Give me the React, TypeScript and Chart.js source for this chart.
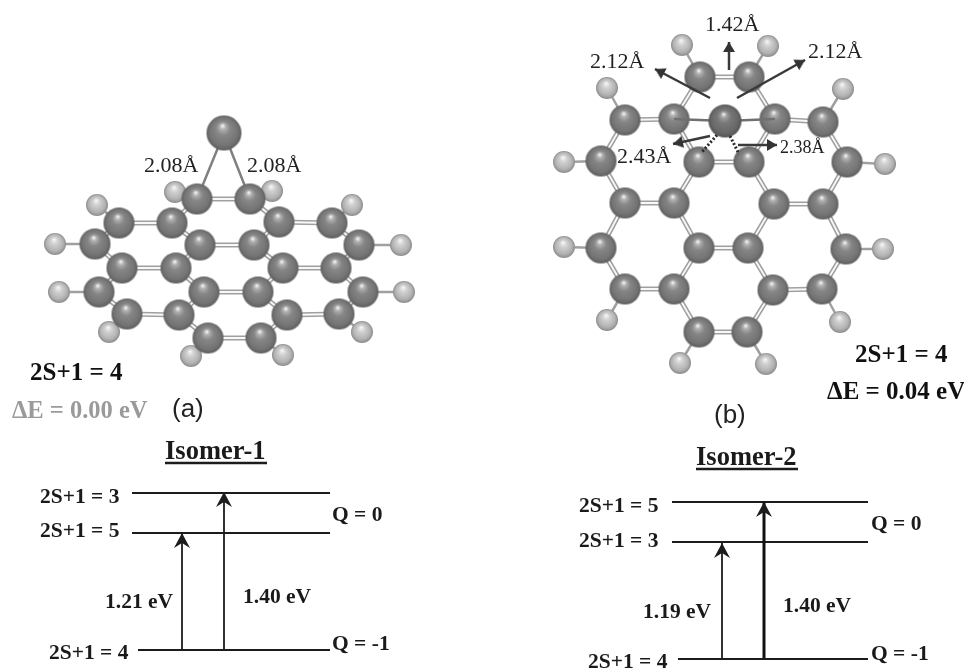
import React, { useEffect, useRef } from "react";
import { Chart, registerables } from "chart.js";

Chart.register(...registerables);

type P = [number, number];
type Label = [string, number, number];

// Molecule (a): carbon atoms, hydrogen atoms, adsorbed atom
const carbonA: P[] = [
  [197, 199], [250, 199],
  [119, 223], [172, 223], [279, 222], [332, 223],
  [95, 244], [200, 245], [254, 245], [359, 245],
  [122, 268], [176, 268], [283, 268], [336, 268],
  [99, 292], [204, 292], [258, 292], [363, 292],
  [127, 314], [179, 315], [287, 315], [339, 314],
  [208, 338], [261, 338],
];
const hydrogenA: P[] = [
  [175, 192], [272, 191], [97, 205], [352, 205], [55, 244], [401, 245],
  [59, 292], [404, 292], [109, 332], [362, 332], [191, 356], [283, 355],
];
const adatomA: P[] = [[224, 133]];

// Molecule (b)
const carbonB: P[] = [
  [700, 77], [749, 77],
  [625, 120], [674, 119], [775, 119], [823, 122],
  [601, 161], [699, 162], [749, 162], [847, 162],
  [625, 203], [674, 203], [774, 204], [823, 204],
  [601, 248], [699, 248], [748, 248], [846, 249],
  [625, 289], [674, 289], [773, 290], [822, 289],
  [699, 332], [747, 332],
];
const hydrogenB: P[] = [
  [682, 45], [768, 46], [607, 88], [843, 89], [564, 162], [885, 164],
  [564, 247], [883, 249], [607, 320], [840, 322], [680, 363], [766, 364],
];
const adatomB: P[] = [[725, 121]];

// Connectivity shared by both molecules (indices into the carbon / hydrogen lists)
const ccBonds: P[] = [
  [0, 1], [0, 3], [1, 4], [2, 3], [4, 5], [2, 6], [3, 7], [4, 8], [5, 9], [7, 8],
  [6, 10], [7, 11], [8, 12], [9, 13], [10, 11], [12, 13], [10, 14], [11, 15], [12, 16], [13, 17],
  [15, 16], [14, 18], [15, 19], [16, 20], [17, 21], [18, 19], [20, 21], [19, 22], [20, 23], [22, 23],
];
const chCarbon: number[] = [0, 1, 2, 5, 6, 9, 14, 17, 18, 21, 22, 23];

// Adsorbate contacts
const contactA: P[][] = [[[224, 133], [197, 199]], [[224, 133], [250, 199]]];
const contactB: P[][] = [[[725, 121], [674, 119]], [[725, 121], [775, 119]]];
const dottedB: P[][] = [[[717, 135], [701, 153]], [[730, 136], [739, 154]]];

// Displacement arrows on molecule (b): base then tip
const vectorsB: P[][] = [
  [[710, 98], [655, 69]],
  [[737, 98], [805, 60]],
  [[729, 70], [729, 42]],
  [[710, 136], [673, 144]],
  [[738, 145], [777, 145]],
];

// Energy levels
const levels1: P[][] = [[[132, 493], [330, 493]], [[132, 533], [330, 533]], [[138, 650], [330, 650]]];
const levels2: P[][] = [[[672, 502], [868, 502]], [[672, 542], [868, 542]], [[678, 659], [868, 659]]];
const excite1: P[][] = [[[182, 650], [182, 533]], [[224, 649], [224, 492]]];
const excite2: P[][] = [[[722, 659], [722, 543]]];
const exciteThick: P[][] = [[[764, 658], [764, 502]]];
const underlines: P[][] = [[[165, 463], [267, 463]], [[696, 469], [798, 469]]];

// Text
const headings: Label[] = [["Isomer-1", 165, 459], ["Isomer-2", 696, 465]];
const levelLabels: Label[] = [
  ["2S+1 = 3", 40, 503], ["2S+1 = 5", 40, 537], ["2S+1 = 4", 49, 659],
  ["Q = 0", 332, 521], ["Q = -1", 332, 650],
  ["1.21 eV", 105, 608], ["1.40 eV", 243, 603],
  ["2S+1 = 5", 579, 512], ["2S+1 = 3", 579, 547], ["2S+1 = 4", 588, 668],
  ["Q = 0", 871, 530], ["Q = -1", 871, 660],
  ["1.19 eV", 643, 618], ["1.40 eV", 783, 612],
];
const stateLabels: Label[] = [["2S+1 = 4", 30, 380], ["2S+1 = 4", 855, 362], ["\u0394E = 0.04 eV", 827, 399]];
const greyLabels: Label[] = [["\u0394E = 0.00 eV", 12, 418]];
const bondLabels: Label[] = [
  ["2.08\u00c5", 144, 172], ["2.08\u00c5", 247, 172],
  ["1.42\u00c5", 705, 31], ["2.12\u00c5", 590, 68], ["2.12\u00c5", 808, 58], ["2.43\u00c5", 617, 163],
];
const smallBondLabels: Label[] = [["2.38\u00c5", 780, 153]];
const panelLabels: Label[] = [["(a)", 172, 417], ["(b)", 714, 423]];

function atomSprite(r: number, stops: [number, string][]) {
  const c = document.createElement("canvas");
  c.width = c.height = Math.ceil(r * 2 + 2);
  const ctx = c.getContext("2d")!;
  const m = c.width / 2;
  const g = ctx.createRadialGradient(m - r * 0.08, m - r * 0.42, r * 0.04, m, m, r);
  stops.forEach(([o, col]) => g.addColorStop(o, col));
  ctx.fillStyle = g;
  ctx.beginPath();
  ctx.arc(m, m, r, 0, Math.PI * 2);
  ctx.fill();
  return c;
}

function headSprite(w: number, h: number, notch: number, color: string) {
  const size = Math.ceil(h * 2 + 2);
  const c = document.createElement("canvas");
  c.width = c.height = size;
  const ctx = c.getContext("2d")!;
  const m = size / 2;
  ctx.fillStyle = color;
  ctx.beginPath();
  ctx.moveTo(m, m);
  ctx.lineTo(m + w / 2, m + h);
  ctx.lineTo(m, m + h - notch);
  ctx.lineTo(m - w / 2, m + h);
  ctx.closePath();
  ctx.fill();
  return c;
}

const toXY = (p: P) => ({ x: p[0], y: p[1] });
const GAP = { x: NaN, y: NaN };
const segments = (list: P[][]) => list.flatMap((s) => [...s.map(toXY), GAP]);
const bondsOf = (carbon: P[]) => segments(ccBonds.map(([a, b]) => [carbon[a], carbon[b]]));
const chOf = (carbon: P[], hydrogen: P[]) => segments(hydrogen.map((h, i) => [carbon[chCarbon[i]], h]));

const lineSet = (data: any[], color: string, width: number, order: number, dash?: number[]) => ({
  type: "scatter" as const,
  data,
  showLine: true,
  spanGaps: false,
  borderColor: color,
  borderWidth: width,
  borderDash: dash || [],
  borderCapStyle: "butt" as const,
  pointRadius: 0,
  order,
  clip: false,
});

const atomSet = (atoms: P[], sprite: HTMLCanvasElement, order: number) => ({
  type: "scatter" as const,
  data: atoms.map(toXY),
  showLine: false,
  pointStyle: sprite,
  pointRadius: 5,
  order,
  clip: false,
});

const arrowSets = (list: P[][], color: string, width: number, sprite: HTMLCanvasElement, order: number) =>
  list.map((s) => ({
    ...lineSet(s.map(toXY), color, width, order),
    pointStyle: sprite,
    pointRadius: [0, 5],
    pointRotation: (Math.atan2(s[1][0] - s[0][0], s[0][1] - s[1][1]) * 180) / Math.PI,
  }));

const textPlugin = {
  id: "diagramText",
  afterDatasetsDraw(chart: any) {
    const { ctx, scales } = chart;
    const draw = (list: Label[], font: string, color: string) => {
      ctx.save();
      ctx.font = font;
      ctx.fillStyle = color;
      ctx.textBaseline = "alphabetic";
      ctx.textAlign = "left";
      list.forEach(([t, x, y]) => ctx.fillText(t, scales.x.getPixelForValue(x), scales.y.getPixelForValue(y)));
      ctx.restore();
    };
    const serif = '"Liberation Serif"';
    draw(headings, `bold 26.5px ${serif}`, "#1a1a1a");
    draw(levelLabels, `bold 21.5px ${serif}`, "#1a1a1a");
    draw(stateLabels, `bold 25px ${serif}`, "#111");
    draw(greyLabels, `bold 24.5px ${serif}`, "#9a9a9a");
    draw(bondLabels, `22px ${serif}`, "#222");
    draw(smallBondLabels, `18px ${serif}`, "#222");
    draw(panelLabels, `26px "Liberation Sans"`, "#222");
  },
};

export default function App() {
  const ref = useRef<HTMLCanvasElement>(null);
  useEffect(() => {
    const carbonStops: [number, string][] = [[0, "#f0f0f0"], [0.14, "#b0b0b0"], [0.38, "#868686"], [0.8, "#747474"], [1, "#5e5e5e"]];
    const carbon = atomSprite(15.5, carbonStops);
    const hydrogen = atomSprite(11, [[0, "#f4f4f4"], [0.3, "#d0d0d0"], [0.75, "#b2b2b2"], [1, "#8c8c8c"]]);
    const adatomBig = atomSprite(17.5, carbonStops);
    const adatomSmall = atomSprite(16.5, [[0, "#e8e8e8"], [0.14, "#a0a0a0"], [0.38, "#787878"], [0.8, "#686868"], [1, "#525252"]]);
    const bigHead = headSprite(16, 15, 5, "#1c1c1c");
    const vecHead = headSprite(12, 10, 0, "#333");
    const chart = new Chart(ref.current!, {
      type: "scatter",
      data: {
        datasets: [
          lineSet(bondsOf(carbonA), "#a0a0a0", 5, 20),
          lineSet(bondsOf(carbonA), "#f8f8f8", 1.8, 19),
          lineSet(bondsOf(carbonB), "#a0a0a0", 5, 20),
          lineSet(bondsOf(carbonB), "#f8f8f8", 1.8, 19),
          lineSet(chOf(carbonA, hydrogenA), "#a0a0a0", 2.5, 18),
          lineSet(chOf(carbonB, hydrogenB), "#a0a0a0", 2.5, 18),
          atomSet(hydrogenA, hydrogen, 17),
          atomSet(hydrogenB, hydrogen, 17),
          lineSet(segments(contactA), "#808080", 2.5, 16),
          atomSet(carbonA, carbon, 15),
          atomSet(carbonB, carbon, 15),
          lineSet(segments(contactB), "#707070", 2.5, 14),
          atomSet(adatomA, adatomBig, 13),
          atomSet(adatomB, adatomSmall, 13),
          lineSet(segments(dottedB), "#2a2a2a", 3, 12, [2, 2]),
          ...arrowSets(vectorsB, "#3a3a3a", 2.5, vecHead, 11),
          lineSet(segments(levels1), "#1c1c1c", 1.8, 10),
          lineSet(segments(levels2), "#1c1c1c", 1.8, 10),
          lineSet(segments(underlines), "#1c1c1c", 2.4, 10),
          ...arrowSets(excite1, "#1c1c1c", 1.8, bigHead, 9),
          ...arrowSets(excite2, "#1c1c1c", 1.8, bigHead, 9),
          ...arrowSets(exciteThick, "#111", 3, bigHead, 9),
        ] as any,
      },
      options: {
        responsive: false,
        animation: false,
        layout: { padding: 0, autoPadding: false },
        plugins: { legend: { display: false }, tooltip: { enabled: false } },
        events: [],
        scales: {
          x: { type: "linear", min: 0, max: 964, display: false },
          y: { type: "linear", min: 0, max: 669, reverse: true, display: false },
        },
      },
      plugins: [textPlugin],
    });
    return () => chart.destroy();
  }, []);
  return (
    <div style={{ position: "absolute", left: 0, top: 0, width: 964, height: 669, background: "#fff", overflow: "hidden" }}>
      <canvas ref={ref} width={964} height={669} style={{ display: "block", filter: "blur(0.4px)" }} />
    </div>
  );
}
